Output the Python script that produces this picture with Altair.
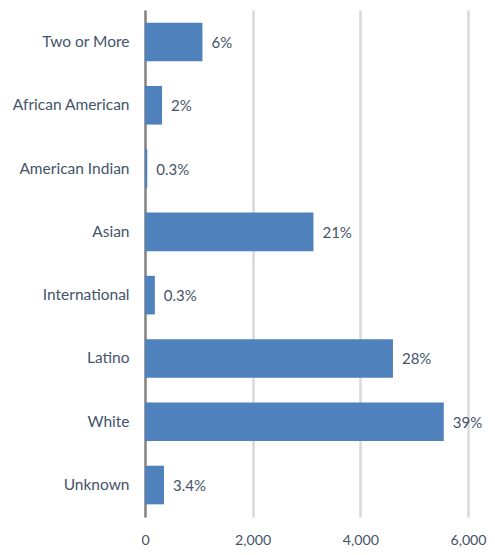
import altair as alt
import pandas as pd

categories = ["Two or More", "African American", "American Indian", "Asian",
              "International", "Latino", "White", "Unknown"]
counts = [1067, 317, 42, 3129, 183, 4606, 5550, 353]
pct_labels = ["6%", "2%", "0.3%", "21%", "0.3%", "28%", "39%", "3.4%"]
x_ticks = [0, 2000, 4000, 6000]

df = pd.DataFrame({"cat": categories, "n": counts, "lab": pct_labels})

FONT = "Lato"
TXT = "#44546A"

y_enc = alt.Y("cat:N", sort=categories, title=None,
              scale=alt.Scale(paddingInner=0.39, paddingOuter=0.2),
              axis=alt.Axis(labelFont=FONT, labelFontSize=15.5, labelColor=TXT,
                            labelPadding=16, ticks=False, domain=True,
                            domainColor="#868686", domainWidth=2.5,
                            minExtent=137, maxExtent=137, grid=False))
x_enc = alt.X("n:Q", title=None,
              scale=alt.Scale(domain=[0, 6000], nice=False),
              axis=alt.Axis(values=x_ticks, format=",.0f", labelFont=FONT,
                            labelFontSize=14.2, labelColor=TXT, labelPadding=16,
                            labelFlush=False,
                            ticks=False, domain=False, grid=True,
                            gridColor="#D9D9D9", gridWidth=2.5))

bars = alt.Chart(df).mark_bar(color="#4F81BD").encode(x=x_enc, y=y_enc)
labels = alt.Chart(df).mark_text(align="left", baseline="middle", dx=9, dy=1,
                                 font=FONT, fontSize=15, color=TXT).encode(
    x="n:Q", y=alt.Y("cat:N", sort=categories), text="lab:N")

chart = (bars + labels).properties(
    width=323, height=507,
    padding={"left": 0, "top": 2, "right": 0, "bottom": 0},
).configure_view(stroke=None)

chart.save("out.html", embed_options={"renderer": "svg", "actions": False})
